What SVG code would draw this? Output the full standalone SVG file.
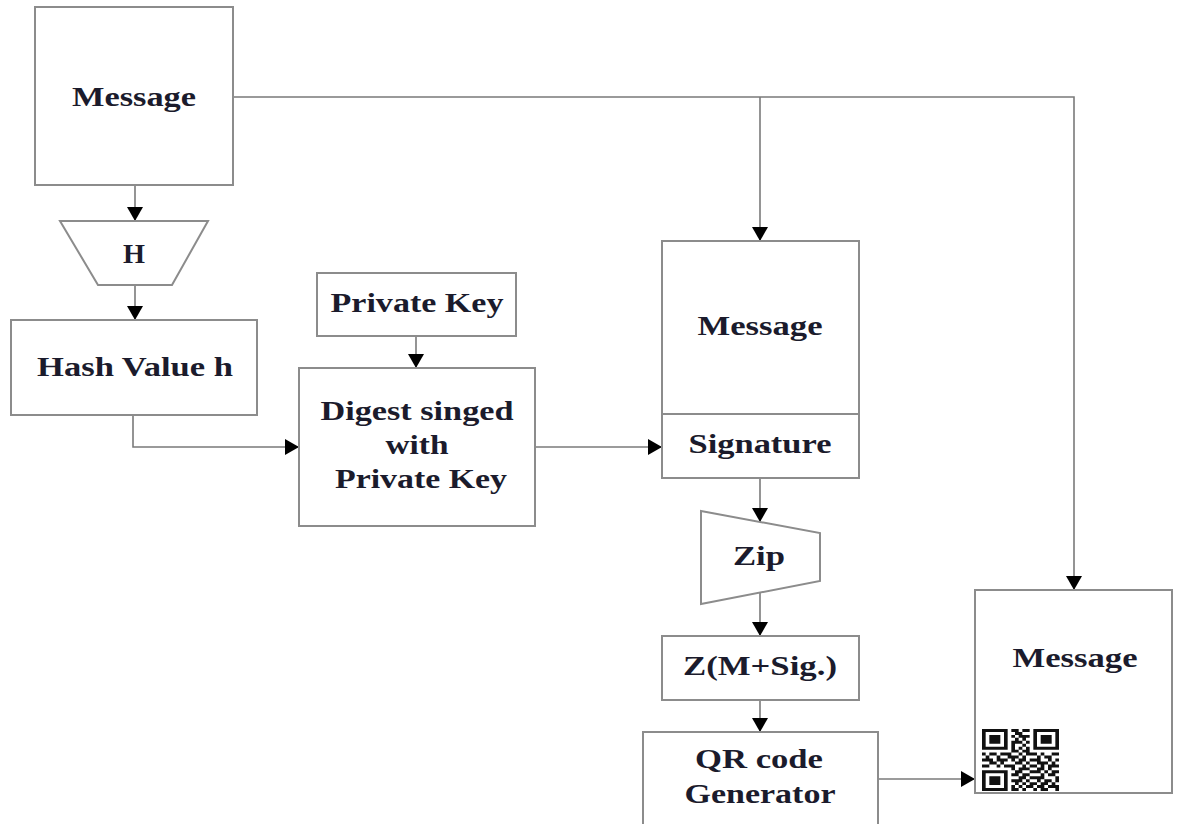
<svg xmlns="http://www.w3.org/2000/svg" width="1177" height="824" viewBox="0 0 1177 824">
  <style>
    .box { fill: #ffffff; stroke: #8c8c8c; stroke-width: 2; }
    .wire { fill: none; stroke: #7a7a7a; stroke-width: 1.6; }
    .lbl { font-family: "Liberation Serif", "Times New Roman", serif; font-weight: bold; font-size: 27px; fill: #1b1b2c; text-anchor: middle; }
    .qr { fill: none; stroke: #111111; stroke-width: 1; }
  </style>
  <defs>
    <marker id="arrow" markerUnits="userSpaceOnUse" markerWidth="14" markerHeight="16" refX="14" refY="8" orient="auto">
      <path d="M0,0 L14,8 L0,16 z" fill="#000000"/>
    </marker>
  </defs>

  <!-- connectors -->
  <g id="connectors">
    <path class="wire" d="M135 185 V221" marker-end="url(#arrow)"/>
    <path class="wire" d="M135 285 V320" marker-end="url(#arrow)"/>
    <path class="wire" d="M133 415 V447 H299" marker-end="url(#arrow)"/>
    <path class="wire" d="M416 336 V368" marker-end="url(#arrow)"/>
    <path class="wire" d="M535 447 H662" marker-end="url(#arrow)"/>
    <path class="wire" d="M233 97 H1074 V590" marker-end="url(#arrow)"/>
    <path class="wire" d="M760 97 V241" marker-end="url(#arrow)"/>
    <path class="wire" d="M760 478 V522" marker-end="url(#arrow)"/>
    <path class="wire" d="M760 593 V636" marker-end="url(#arrow)"/>
    <path class="wire" d="M760 700 V732" marker-end="url(#arrow)"/>
    <path class="wire" d="M878 779 H975" marker-end="url(#arrow)"/>
  </g>

  <!-- source message -->
  <g id="message-source">
    <rect class="box" x="35" y="7" width="198" height="178"/>
    <text class="lbl" x="134" y="106" textLength="124" lengthAdjust="spacingAndGlyphs">Message</text>
  </g>

  <!-- hash function -->
  <g id="hash-fn">
    <polygon class="box" points="60,221 208,221 172,285 98,285"/>
    <text class="lbl" x="134" y="263" textLength="22" lengthAdjust="spacingAndGlyphs">H</text>
  </g>

  <g id="hash-value">
    <rect class="box" x="11" y="320" width="246" height="95"/>
    <text class="lbl" x="135" y="376" textLength="196" lengthAdjust="spacingAndGlyphs">Hash Value h</text>
  </g>

  <g id="private-key">
    <rect class="box" x="317" y="273" width="199" height="63"/>
    <text class="lbl" x="417" y="312" textLength="173" lengthAdjust="spacingAndGlyphs">Private Key</text>
  </g>

  <g id="digest-signing">
    <rect class="box" x="299" y="368" width="236" height="158"/>
    <text class="lbl" x="417" y="420" textLength="193" lengthAdjust="spacingAndGlyphs">Digest singed</text>
    <text class="lbl" x="417" y="454" textLength="63" lengthAdjust="spacingAndGlyphs">with</text>
    <text class="lbl" x="421" y="488" textLength="172" lengthAdjust="spacingAndGlyphs">Private Key</text>
  </g>

  <!-- signed message -->
  <g id="signed-message">
    <rect class="box" x="662" y="241" width="197" height="237"/>
    <line class="box" x1="662" y1="414" x2="859" y2="414"/>
    <text class="lbl" x="760" y="335" textLength="125" lengthAdjust="spacingAndGlyphs">Message</text>
    <text class="lbl" x="760" y="453" textLength="143" lengthAdjust="spacingAndGlyphs">Signature</text>
  </g>

  <g id="zip">
    <polygon class="box" points="701,511 820,533 820,581 701,604"/>
    <text class="lbl" x="759" y="565" textLength="52" lengthAdjust="spacingAndGlyphs">Zip</text>
  </g>

  <g id="zipped">
    <rect class="box" x="662" y="636" width="197" height="64"/>
    <text class="lbl" x="760" y="675" textLength="154" lengthAdjust="spacingAndGlyphs">Z(M+Sig.)</text>
  </g>

  <g id="qr-generator">
    <rect class="box" x="643" y="732" width="235" height="110"/>
    <text class="lbl" x="759" y="768" textLength="128" lengthAdjust="spacingAndGlyphs">QR code</text>
    <text class="lbl" x="760" y="803" textLength="151" lengthAdjust="spacingAndGlyphs">Generator</text>
  </g>

  <!-- output message carrying the QR code -->
  <g id="message-output">
    <rect class="box" x="975" y="590" width="197" height="203"/>
    <text class="lbl" x="1075" y="667" textLength="125" lengthAdjust="spacingAndGlyphs">Message</text>
    <g transform="translate(982,729) scale(3.667,2.952)">
      <path class="qr" d="
        M0 0.5h7M8 0.5h2M11 0.5h2M14 0.5h7
        M0 1.5h1M6 1.5h1M9 1.5h2M14 1.5h1M20 1.5h1
        M0 2.5h1M2 2.5h3M6 2.5h1M8 2.5h1M10 2.5h3M14 2.5h1M16 2.5h3M20 2.5h1
        M0 3.5h1M2 3.5h3M6 3.5h1M9 3.5h1M11 3.5h1M14 3.5h1M16 3.5h3M20 3.5h1
        M0 4.5h1M2 4.5h3M6 4.5h1M8 4.5h3M12 4.5h1M14 4.5h1M16 4.5h3M20 4.5h1
        M0 5.5h1M6 5.5h1M8 5.5h1M11 5.5h1M14 5.5h1M20 5.5h1
        M0 6.5h7M8 6.5h1M10 6.5h1M12 6.5h1M14 6.5h7
        M8 7.5h2M11 7.5h2
        M0 8.5h1M2 8.5h2M5 8.5h3M10 8.5h1M12 8.5h3M16 8.5h1M19 8.5h2
        M1 9.5h1M4 9.5h1M7 9.5h3M11 9.5h1M15 9.5h1M17 9.5h2
        M0 10.5h3M4 10.5h3M8 10.5h1M10 10.5h2M13 10.5h3M18 10.5h1M20 10.5h1
        M2 11.5h2M5 11.5h1M9 11.5h2M12 11.5h1M15 11.5h3M19 11.5h1
        M0 12.5h2M4 12.5h1M6 12.5h3M11 12.5h1M13 12.5h2M16 12.5h1M18 12.5h3
        M8 13.5h1M10 13.5h3M15 13.5h2M18 13.5h1
        M0 14.5h7M9 14.5h2M13 14.5h3M17 14.5h1M19 14.5h2
        M0 15.5h1M6 15.5h1M8 15.5h2M11 15.5h2M16 15.5h1M18 15.5h2
        M0 16.5h1M2 16.5h3M6 16.5h1M10 16.5h2M13 16.5h4M20 16.5h1
        M0 17.5h1M2 17.5h3M6 17.5h1M8 17.5h3M12 17.5h1M15 17.5h1M17 17.5h2M20 17.5h1
        M0 18.5h1M2 18.5h3M6 18.5h1M9 18.5h1M11 18.5h1M13 18.5h2M16 18.5h2M19 18.5h1
        M0 19.5h1M6 19.5h1M8 19.5h1M10 19.5h1M12 19.5h2M15 19.5h2M18 19.5h3
        M0 20.5h7M8 20.5h2M11 20.5h1M14 20.5h1M16 20.5h2M20 20.5h1"/>
    </g>
  </g>
</svg>
